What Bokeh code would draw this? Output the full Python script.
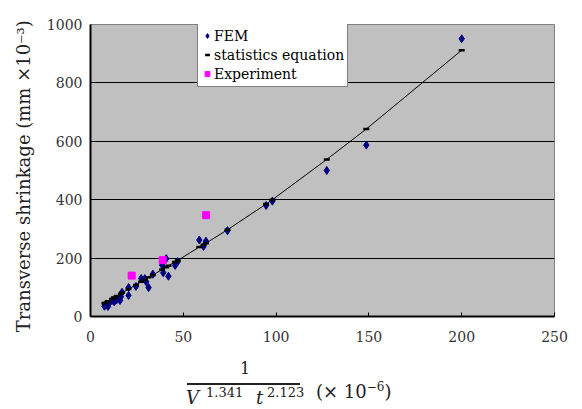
from bokeh.plotting import figure
from bokeh.layouts import column
from bokeh.models import Range1d, Legend, LegendItem, FixedTicker, Div
from bokeh.embed import file_html
from bokeh.resources import INLINE

# ---- data ----
fem_x = [7.5, 8.0, 9.4, 9.8, 11.6, 12.8, 14.1, 15.9, 16.4, 17.0, 20.5, 20.5, 24.5, 27.3,
         29.3, 30.0, 31.3, 33.6, 38.6, 39.2, 40.8, 42.0, 45.6, 47.0, 58.6, 60.9, 62.2,
         73.8, 94.6, 98.0, 127.3, 148.6, 200.0]
fem_y = [35, 41, 34, 42, 55, 50, 57, 55, 68, 83, 72, 99, 103, 130,
         130, 119, 99, 145, 176, 150, 198, 138, 175, 188, 262, 240, 258,
         294, 380, 395, 500, 587, 951]

stat_x = [7.5, 8.0, 9.4, 11.6, 12.8, 14.1, 16.4, 17.0, 20.5, 24.5, 27.3, 29.3, 31.3, 33.6,
          38.6, 40.8, 42.0, 45.6, 47.0, 58.6, 60.9, 62.2, 73.8, 94.6, 98.0, 127.3, 148.6, 200.0]
stat_y = [45, 47, 52, 60, 65, 70, 78, 81, 94, 108, 119, 126, 134, 142,
          161, 169, 174, 187, 192, 238, 246, 251, 297, 385, 400, 538, 642, 912]

exp_x = [22.2, 38.9, 62.3]
exp_y = [140, 193, 347]

x_ticks = [0, 50, 100, 150, 200, 250]
y_ticks = [0, 200, 400, 600, 800, 1000]

SERIF = "DejaVu Serif"

W, H = 582, 350
p = figure(width=W, height=H, x_range=Range1d(0, 250), y_range=Range1d(0, 1000),
           output_backend="svg", toolbar_location=None,
           min_border_left=90, min_border_right=28, min_border_top=24, min_border_bottom=34)

p.background_fill_color = "#c0c0c0"
p.border_fill_color = "white"
p.outline_line_color = "#808080"
p.outline_line_width = 1

p.xgrid.visible = False
p.ygrid.ticker = FixedTicker(ticks=y_ticks)
p.ygrid.grid_line_color = "black"
p.ygrid.grid_line_width = 1

p.xaxis.ticker = FixedTicker(ticks=x_ticks)
p.yaxis.ticker = FixedTicker(ticks=y_ticks)
for ax in (p.xaxis, p.yaxis):
    ax.axis_line_color = "black"
    ax.axis_line_width = 2
    ax.major_tick_line_color = "black"
    ax.minor_tick_line_color = None
    ax.major_label_text_font = SERIF
    ax.major_label_text_font_size = "14px"
    ax.major_label_text_color = "#333333"
p.xaxis.major_tick_in = 4
p.xaxis.major_tick_out = 0
p.yaxis.major_tick_in = 0
p.yaxis.major_tick_out = 0
p.xaxis.major_label_standoff = 14
p.yaxis.major_label_standoff = 8

# two trailing no-break spaces nudge the centred title slightly downward
p.yaxis.axis_label = "Transverse shrinkage (mm ×10⁻³)" + "\u00a0" * 2
p.yaxis.axis_label_text_font = SERIF
p.yaxis.axis_label_text_font_style = "normal"
p.yaxis.axis_label_text_font_size = "18px"
p.yaxis.axis_label_text_color = "#222222"
p.yaxis.axis_label_standoff = 10

# ---- marks ----
line_r = p.line(stat_x, stat_y, line_color="black", line_width=1)
fem_r = p.scatter(fem_x, fem_y, marker="diamond", size=8, fill_color="#000080",
                  line_color="#000080")
stat_r = p.scatter(stat_x, stat_y, marker="dash", size=6, line_color="black", line_width=2.5)
exp_r = p.scatter(exp_x, exp_y, marker="square", size=7, fill_color="#ff00ff",
                  line_color="#ff00ff")

legend = Legend(items=[LegendItem(label="FEM", renderers=[fem_r]),
                       LegendItem(label="statistics equation", renderers=[stat_r]),
                       LegendItem(label="Experiment", renderers=[exp_r])],
                location=(107, 229), margin=0, padding=3, spacing=0,
                glyph_width=12, glyph_height=19, label_height=19, label_standoff=1,
                label_text_font=SERIF, label_text_font_size="14px",
                label_text_color="black",
                border_line_color="black", border_line_width=1,
                background_fill_color="white", background_fill_alpha=1)
p.add_layout(legend, "center")

# ---- x-axis title: 1 / (V^1.341 t^2.123)  (x 10^-6) ----
def span(text, left, top, size, italic=False):
    style = ("position:absolute;left:%dpx;top:%dpx;font-size:%dpx;line-height:%dpx;"
             "white-space:nowrap;%s" % (left, top, size, size,
                                        "font-style:italic;" if italic else ""))
    return '<span style="%s">%s</span>' % (style, text)


xlabel_html = (
    '<div style="position:relative;width:582px;height:59px;overflow:hidden;'
    'font-family:\'DejaVu Serif\';color:#222222;">'
    + '<span style="position:absolute;left:225px;width:40px;text-align:center;top:11px;'
      'font-size:16px;line-height:16px;">1</span>'
    + '<span style="position:absolute;left:187px;top:33px;width:113px;height:1.5px;'
      'background:#222222;"></span>'
    + span("V", 186, 39, 18, italic=True)
    + span("1.341", 206, 36, 13)
    + span("t", 256, 39, 18, italic=True)
    + span("2.123", 267, 36, 13)
    + span("(× 10<sup style=\"font-size:12px;\">−6</sup>)", 316, 28, 18)
    + '</div>'
)
xlabel = Div(text=xlabel_html, width=W, height=59, margin=0)

layout = column(p, xlabel, spacing=0)
open("out.html", "w").write(file_html(layout, INLINE))
